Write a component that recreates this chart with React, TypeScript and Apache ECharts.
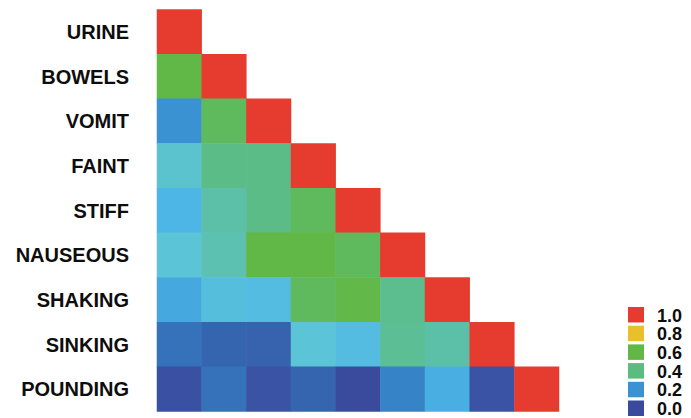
import React, { useEffect, useRef } from "react";
import * as echarts from "echarts";

const symptoms = ["URINE", "BOWELS", "VOMIT", "FAINT", "STIFF", "NAUSEOUS", "SHAKING", "SINKING", "POUNDING"];

// lower-triangular correlation rows (col 0..row)
const rowURINE = [1.0];
const rowBOWELS = [0.6, 1.0];
const rowVOMIT = [0.2, 0.5, 1.0];
const rowFAINT = [0.31, 0.4, 0.4, 1.0];
const rowSTIFF = [0.25, 0.35, 0.4, 0.5, 1.0];
const rowNAUSEOUS = [0.3, 0.34, 0.6, 0.6, 0.5, 1.0];
const rowSHAKING = [0.23, 0.28, 0.27, 0.5, 0.59, 0.39, 1.0];
const rowSINKING = [0.12, 0.09, 0.08, 0.3, 0.27, 0.38, 0.35, 1.0];
const rowPOUNDING = [0.02, 0.12, 0.03, 0.09, 0.0, 0.16, 0.24, 0.03, 1.0];

const rows = [rowURINE, rowBOWELS, rowVOMIT, rowFAINT, rowSTIFF, rowNAUSEOUS, rowSHAKING, rowSINKING, rowPOUNDING];

const legendLabels = ["1.0", "0.8", "0.6", "0.4", "0.2", "0.0"];
const legendColors = ["#e63c30", "#e8c02c", "#62b846", "#5cbc80", "#3a92d2", "#3a4b9e"];

const palette = [
  "#3a4b9e", "#3a58a8", "#3568b2", "#3580c4", "#3a92d2",
  "#4db6e6", "#5bc4d6", "#5cc0a8", "#5cbc88", "#5dbb72",
  "#5fba5e", "#61b952", "#62b846", "#84ba42", "#a5bc3e",
  "#c8be36", "#e8c02c", "#e7a02e", "#e6802f", "#e65e30", "#e63c30",
];

export default function App() {
  const ref = useRef<HTMLDivElement>(null);
  useEffect(() => {
    if (!ref.current) return;
    const chart = echarts.init(ref.current, undefined, { renderer: "svg" });
    const data: number[][] = [];
    rows.forEach((r, yi) => r.forEach((v, xi) => data.push([xi, yi, v])));
    const font = "'Liberation Sans', Arial, sans-serif";
    const legendGraphics: any[] = [];
    legendLabels.forEach((lab, i) => {
      const top = 307 + i * 18.7;
      legendGraphics.push({
        type: "rect",
        shape: { x: 628, y: top, width: 16, height: 15.5 },
        style: { fill: legendColors[i] },
      });
      legendGraphics.push({
        type: "text",
        x: 657,
        y: top + 8.5,
        style: {
          text: lab,
          fill: "#0d0d0d",
          font: `bold 18px ${font}`,
          lineHeight: 16,
          textVerticalAlign: "middle",
          verticalAlign: "middle",
        },
      });
    });
    chart.setOption({
      animation: false,
      grid: { left: 157, top: 9.5, width: 402, height: 402 },
      xAxis: {
        type: "category",
        data: symptoms,
        show: false,
      },
      yAxis: {
        type: "category",
        data: symptoms,
        inverse: true,
        axisLine: { show: false },
        axisTick: { show: false },
        splitLine: { show: false },
        axisLabel: {
          margin: 28,
          color: "#0d0d0d",
          fontWeight: "bold",
          fontSize: 20,
          fontFamily: font,
          padding: [3, 0, 0, 0],
        },
      },
      visualMap: {
        show: false,
        type: "continuous",
        min: 0,
        max: 1,
        inRange: { color: palette },
      },
      series: [
        {
          type: "heatmap",
          data,
          itemStyle: { borderWidth: 0 },
          emphasis: { disabled: true },
        },
      ],
      graphic: legendGraphics,
    });
    return () => chart.dispose();
  }, []);
  return <div ref={ref} style={{ width: 691, height: 418, position: "absolute", left: 0, top: 0 }} />;
}
